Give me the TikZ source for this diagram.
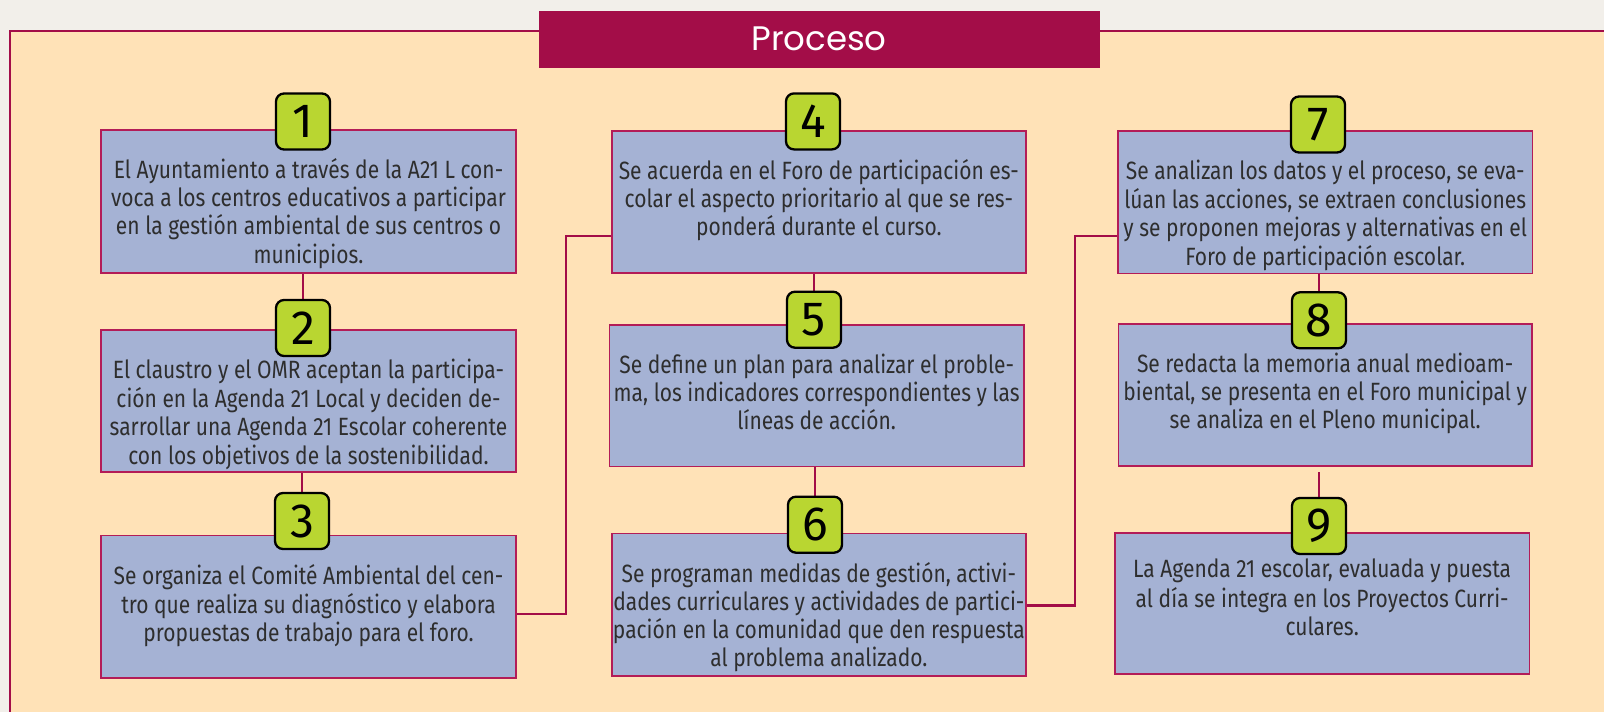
\documentclass[tikz,border=0pt]{standalone}
\usepackage{fontspec}
\setmainfont{Fira Sans}[FakeStretch=0.84]
\newfontfamily\titlefont{Poppins}
\newfontfamily\numfont{Fira Sans}
\definecolor{bggrey}{HTML}{F2EFEA}
\definecolor{peach}{HTML}{FFE2B7}
\definecolor{crimson}{HTML}{A30D48}
\definecolor{boxfill}{HTML}{A5B2D4}
\definecolor{boxline}{HTML}{B31C57}
\definecolor{badgegreen}{HTML}{B9D631}
\definecolor{txtgrey}{HTML}{2E2E2E}
\pgfdeclarelayer{back}
\pgfdeclarelayer{lines}
\pgfsetlayers{back,lines,main}
\begin{document}
\begin{tikzpicture}[x=1pt,y=-1pt,
  stepbox/.style={draw=boxline,fill=boxfill,line width=1.6pt,inner sep=0pt,outer sep=0pt},
  steptext/.style={anchor=north,align=center,inner sep=0pt,text=txtgrey,font=\fontsize{25}{28.1}\selectfont},
  badge/.style={draw=black,fill=badgegreen,line width=2.3pt,rounded corners=8pt,minimum width=54pt,minimum height=56pt,inner sep=0pt,font=\numfont\fontsize{48}{48}\selectfont,text=black},
  conn/.style={draw=crimson,line width=2.6pt},
  titlebox/.style={fill=crimson,draw=crimson,minimum width=560pt,minimum height=56pt,inner sep=0pt,text=white,font=\titlefont\fontsize{34}{34}\selectfont}
]
\useasboundingbox (0,0) rectangle (1604,712);
\begin{pgfonlayer}{back}
\fill[bggrey] (0,0) rectangle (1604,712);
\fill[peach] (10,31) rectangle (1604,712);
\draw[crimson,line width=2.4pt] (10,712) -- (10,31) -- (1604,31);
\end{pgfonlayer}

% boxes
\node[stepbox,minimum width=415pt,minimum height=142.7pt] (b1) at (308.5,201.35) {};
\node[stepbox,minimum width=415pt,minimum height=141.7pt] (b2) at (308.5,400.85) {};
\node[stepbox,minimum width=415pt,minimum height=142.4pt] (b3) at (308.5,606.5) {};
\node[stepbox,minimum width=414.3pt,minimum height=141.7pt] (b4) at (818.85,201.85) {};
\node[stepbox,minimum width=414.7pt,minimum height=141.5pt] (b5) at (816.65,395.75) {};
\node[stepbox,minimum width=414.3pt,minimum height=142.4pt] (b6) at (818.85,604.5) {};
\node[stepbox,minimum width=414.5pt,minimum height=142.3pt] (b7) at (1325.25,202.15) {};
\node[stepbox,minimum width=413.7pt,minimum height=142pt] (b8) at (1325.15,395) {};
\node[stepbox,minimum width=414.3pt,minimum height=141.3pt] (b9) at (1322.15,603.35) {};

% badges
\node[badge] (n1) at (303,121.5) {1};
\node[badge] (n2) at (303,328) {2};
\node[badge] (n3) at (302,521) {3};
\node[badge] (n4) at (813,121.4) {4};
\node[badge] (n5) at (814,319.7) {5};
\node[badge] (n6) at (815,524.7) {6};
\node[badge] (n7) at (1318,124.5) {7};
\node[badge] (n8) at (1319,320.3) {8};
\node[badge] (n9) at (1319,526) {9};

% connectors
\begin{pgfonlayer}{lines}
\draw[conn] (b1.south -| n2.north) -- (n2.north);
\draw[conn] (b2.south -| n3.north) -- (n3.north);
\draw[conn] ([yshift=-7.5pt]b3.east) -- ++(50,0) |- ([yshift=-34pt]b4.west);
\draw[conn] (b4.south -| n5.north) -- (n5.north);
\draw[conn] (b5.south -| n6.north) -- (n6.north);
\draw[conn] ([yshift=-1pt]b6.east) -- ++(49,0) |- ([yshift=-33.7pt]b7.west);
\draw[conn] (b7.south -| n8.north) -- (n8.north);
\draw[conn] ([yshift=-6pt]b8.south -| n9.north) -- (n9.north);
\end{pgfonlayer}

% texts
\node[steptext] (t1) at ([yshift=-28.5pt]b1.north) {\strut El Ayuntamiento a través de la A21 L con-\\voca a los centros educativos a participar\\en la gestión ambiental de sus centros o\\municipios.};
\node[steptext] (t2) at ([yshift=-28.5pt]b2.north) {\strut El claustro y el OMR aceptan la participa-\\ción en la Agenda 21 Local y deciden de-\\sarrollar una Agenda 21 Escolar coherente\\con los objetivos de la sostenibilidad.};
\node[steptext] (t3) at ([yshift=-28.5pt]b3.north) {\strut Se organiza el Comité Ambiental del cen-\\tro que realiza su diagnóstico y elabora\\propuestas de trabajo para el foro.};
\node[steptext] (t4) at ([yshift=-28.5pt]b4.north) {\strut Se acuerda en el Foro de participación es-\\colar el aspecto prioritario al que se res-\\ponderá durante el curso.};
\node[steptext] (t5) at ([yshift=-28.5pt]b5.north) {\strut Se define un plan para analizar el proble-\\ma, los indicadores correspondientes y las\\líneas de acción.};
\node[steptext] (t6) at ([yshift=-28.5pt]b6.north) {\strut Se programan medidas de gestión, activi-\\dades curriculares y actividades de partici-\\pación en la comunidad que den respuesta\\al problema analizado.};
\node[steptext] (t7) at ([yshift=-28.5pt]b7.north) {\strut Se analizan los datos y el proceso, se eva-\\lúan las acciones, se extraen conclusiones\\y se proponen mejoras y alternativas en el\\Foro de participación escolar.};
\node[steptext] (t8) at ([yshift=-28.5pt]b8.north) {\strut Se redacta la memoria anual medioam-\\biental, se presenta en el Foro municipal y\\se analiza en el Pleno municipal.};
\node[steptext] (t9) at ([yshift=-25pt]b9.north) {\strut La Agenda 21 escolar, evaluada y puesta\\al día se integra en los Proyectos Curri-\\culares.};

% title
\node[titlebox] (title) at (819,38.7) {Proceso};
\end{tikzpicture}
\end{document}
